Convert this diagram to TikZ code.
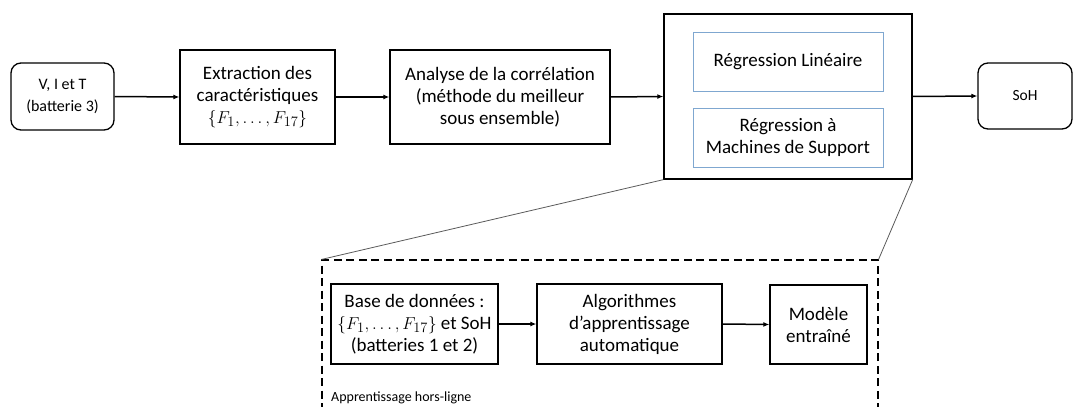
\documentclass[tikz,border=0pt]{standalone}
\usepackage{fontspec}
\setmainfont{Carlito}
\usetikzlibrary{arrows.meta}
\definecolor{bluebox}{HTML}{7FA7D0}
\definecolor{linkgray}{HTML}{5A5A5A}
\tikzset{
  every node/.style={font=\fontsize{19}{22}\selectfont, align=center, inner sep=0pt},
  blk/.style={draw=black, line width=1.3pt, fill=white},
  rblk/.style={blk, rounded corners=10pt},
  inner/.style={draw=bluebox, line width=1pt},
  dbox/.style={draw=black, line width=1.1pt, dash pattern=on 8pt off 4.5pt},
  flow/.style={line width=1.5pt, -{Latex[length=6pt,width=5pt]}},
  link/.style={draw=linkgray, line width=0.8pt},
}
\begin{document}
\begin{tikzpicture}[x=1pt,y=-1pt]
\path[use as bounding box, clip] (0,0) rectangle (1074,407);
% top row
\node[rblk, minimum width=103pt, minimum height=67pt, font=\fontsize{16}{21.5}\selectfont] (A) at (62.5,96.5) {V, I et T\\(batterie 3)};
\node[blk, minimum width=155pt, minimum height=94pt] (B) at (257.5,97) {Extraction des\\caractéristiques\\$\{F_1,\ldots,F_{17}\}$};
\node[blk, minimum width=220pt, minimum height=94pt] (C) at (500,97) {Analyse de la corrélation\\(méthode du meilleur\\sous ensemble)};
\node[blk, minimum width=248pt, minimum height=165pt] (D) at (788,96.5) {};
\node[inner, minimum width=190pt, minimum height=59pt] (R1) at (788,61.5) {Régression Linéaire};
\node[inner, minimum width=190pt, minimum height=59pt] (R2) at (788,137.5) {Régression à\\Machines de Support};
\node[rblk, minimum width=94pt, minimum height=66pt, font=\fontsize{15.5}{19}\selectfont] (S) at (1025,96) {SoH};
% offline box
\node[dbox, minimum width=556pt, minimum height=170pt] (E) at (600,345) {};
\node[blk, minimum width=167pt, minimum height=80pt] (F) at (414.5,324) {Base de données :\\$\{F_1,\ldots,F_{17}\}$ et SoH\\(batteries 1 et 2)};
\node[blk, minimum width=185pt, minimum height=80pt] (G) at (629.5,324) {Algorithmes\\d’apprentissage\\automatique};
\node[blk, minimum width=97pt, minimum height=79pt] (H) at (818.5,324.5) {Modèle\\entraîné};
\node[anchor=base west, font=\fontsize{14}{17}\selectfont] (L) at (331,401) {Apprentissage hors-ligne};
% flow arrows
\draw[flow] (A.east) -- (B.west);
\draw[flow] (B.east) -- (C.west);
\draw[flow] (C.east) -- (D.west);
\draw[flow] (D.east) -- (S.west);
\draw[flow] (F.east) -- (G.west);
\draw[flow] (G.east) -- (H.west);
% zoom lines
\draw[link] (D.south west) -- (E.north west);
\draw[link] (D.south east) -- (E.north east);
\end{tikzpicture}
\end{document}
